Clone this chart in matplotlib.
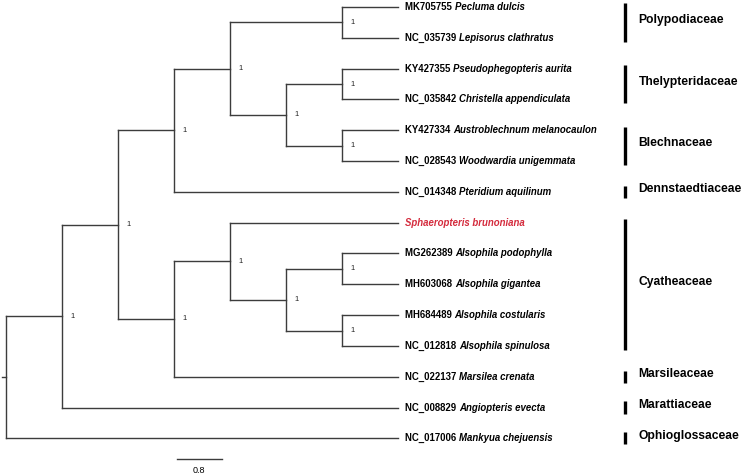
import matplotlib
matplotlib.use("Agg")
from matplotlib import pyplot as plt

# tips, top to bottom
accessions = ["MK705755", "NC_035739", "KY427355", "NC_035842", "KY427334",
              "NC_028543", "NC_014348", "", "MG262389", "MH603068",
              "MH684489", "NC_012818", "NC_022137", "NC_008829", "NC_017006"]
species = ["Pecluma dulcis", "Lepisorus clathratus", "Pseudophegopteris aurita",
           "Christella appendiculata", "Austroblechnum melanocaulon",
           "Woodwardia unigemmata", "Pteridium aquilinum",
           "Sphaeropteris brunoniana", "Alsophila podophylla", "Alsophila gigantea",
           "Alsophila costularis", "Alsophila spinulosa", "Marsilea crenata",
           "Angiopteris evecta", "Mankyua chejuensis"]
highlight = "Sphaeropteris brunoniana"

# topology (tip indices), every node has support 1
tree = ((((((0, 1), ((2, 3), (4, 5))), 6), ((7, ((8, 9), (10, 11))), 12)), 13), 14)
support = "1"

families = ["Polypodiaceae", "Thelypteridaceae", "Blechnaceae", "Dennstaedtiaceae",
            "Cyatheaceae", "Marsileaceae", "Marattiaceae", "Ophioglossaceae"]
family_first = [0, 2, 4, 6, 7, 12, 13, 14]
family_last = [1, 3, 5, 6, 11, 12, 13, 14]

scale_len = 0.8

fig = plt.figure(figsize=(7.45, 4.75), dpi=100)
ax = fig.add_axes([0, 0, 1, 1])
ax.set_xlim(-0.107, 13.2)
ax.set_ylim(15.19, -0.227)
ax.axis("off")

lc = "#3c3c3c"


def height(node):
    if isinstance(node, int):
        return 0
    return 1 + max(height(c) for c in node)


tip_x = height(tree)


def draw(node):
    # cladogram with aligned tips: x = tip_x - height; returns (x, y)
    if isinstance(node, int):
        return tip_x, node
    x = tip_x - height(node)
    ys = []
    for c in node:
        cx, cy = draw(c)
        ax.plot([x, cx], [cy, cy], color=lc, lw=1.0)
        ys.append(cy)
    ax.plot([x, x], [ys[0], ys[-1]], color=lc, lw=1.0)
    y = (ys[0] + ys[-1]) / 2
    if node is not tree:
        ax.text(x + 0.16, y, support, fontsize=5.5, va="center", ha="left",
                color="#222222", family="Liberation Sans")
    return x, y


root_x, root_y = draw(tree)
ax.plot([root_x - 0.07, root_x], [root_y, root_y], color=lc, lw=1.0)

# tip labels
fs = 6.9
for i, (acc, sp) in enumerate(zip(accessions, species)):
    x0 = tip_x + 0.13
    if sp == highlight:
        ax.text(x0, i, sp, fontsize=fs, fontweight="bold", fontstyle="italic",
                color="#d42a3c", va="center", ha="left", family="Liberation Sans")
        continue
    t = ax.text(x0, i, acc + " ", fontsize=fs, fontweight="bold",
                va="center", ha="left", family="Liberation Sans")
    ax.annotate(sp, xycoords=t, xy=(1, 0.5), va="center", ha="left",
                fontsize=fs, fontweight="bold", fontstyle="italic",
                family="Liberation Sans")

# family bars
for fam, a, b in zip(families, family_first, family_last):
    pad = 0.2 if a == b else 0.12
    ax.plot([11.05, 11.05], [a - pad, b + pad], color="black", lw=2.4,
            solid_capstyle="butt")
    ax.text(11.3, (a + b) / 2 - 0.08, fam, fontsize=8.7, fontweight="bold",
            va="center", ha="left", family="Liberation Sans")

# scale bar
ax.plot([3.05, 3.05 + scale_len], [14.68, 14.68], color=lc, lw=1.0)
ax.text(3.05 + scale_len / 2, 15.03, str(scale_len), fontsize=6.5,
        ha="center", va="center", family="Liberation Sans")

fig.savefig("out.png", dpi=100, facecolor="white")
